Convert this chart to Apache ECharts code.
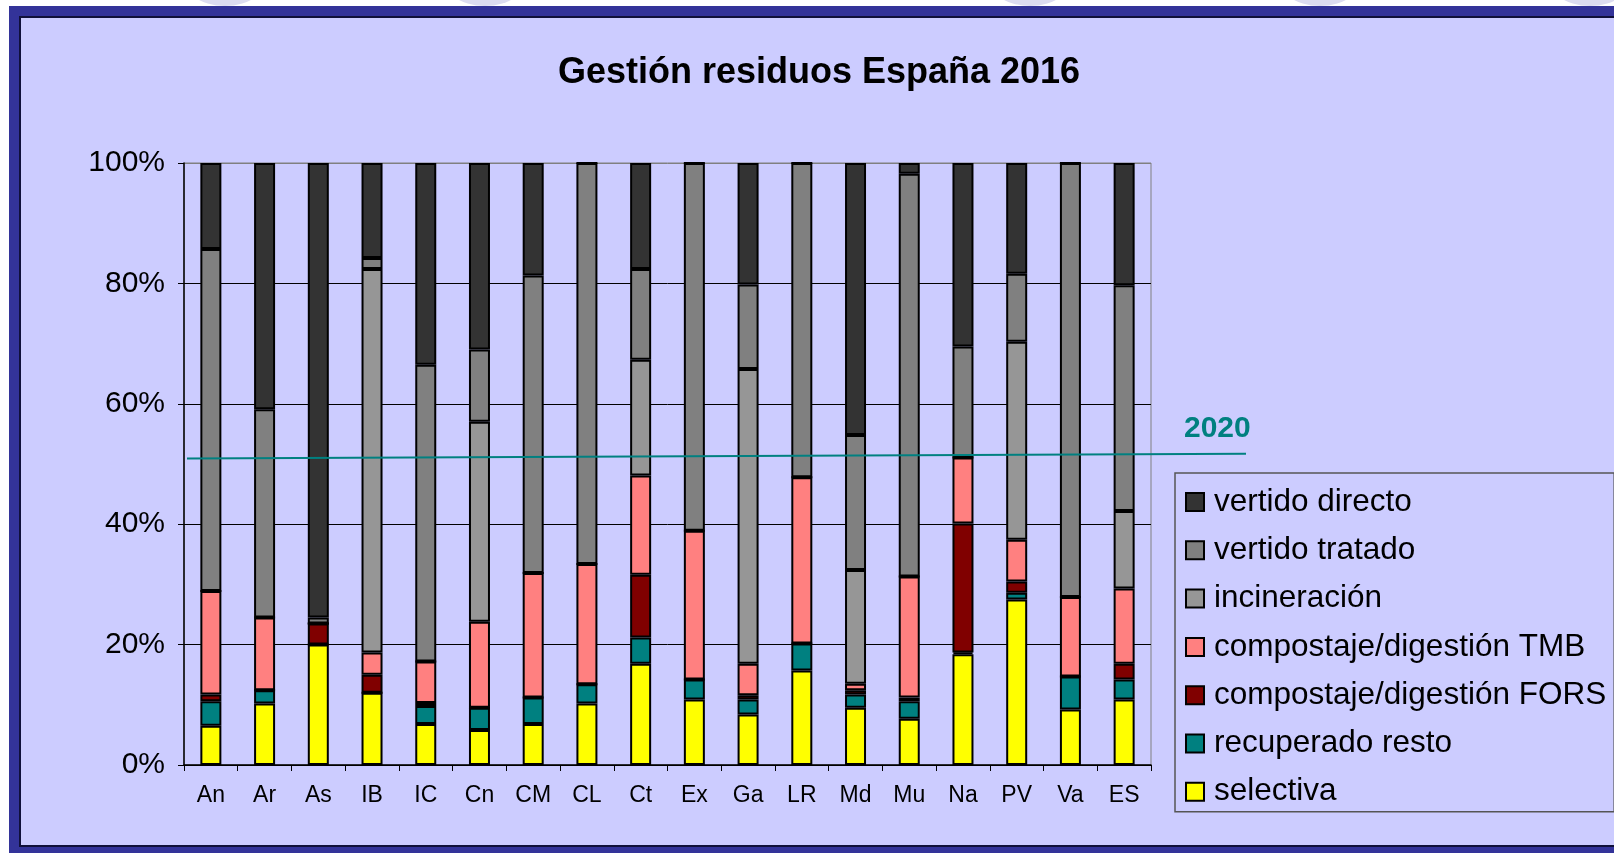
<!DOCTYPE html>
<html>
<head>
<meta charset="utf-8">
<script src="https://cdn.jsdelivr.net/npm/echarts@6/dist/echarts.min.js"></script>
<style>
  body { margin:0; background:#fff; width:1614px; height:853px; overflow:hidden; position:relative; }
  .blob { position:absolute; top:-60px; width:90px; height:66px; border-radius:50%; background:#dcdcf0; }
  #frame { position:absolute; left:9px; top:6px; width:1605px; height:847px; background:#333399; }
  #panel { position:absolute; left:19px; top:16px; width:1595px; height:831px; background:#CCCCFF;
           border-left:2px solid #10103a; border-top:2px solid #10103a; border-bottom:2px solid #10103a; box-sizing:border-box; }
  #chart { position:absolute; left:0; top:0; width:1614px; height:853px; }
</style>
</head>
<body>
<div class="blob" style="left:180px"></div>
<div class="blob" style="left:440px"></div>
<div class="blob" style="left:985px"></div>
<div class="blob" style="left:1275px"></div>
<div class="blob" style="left:1545px"></div>
<div id="frame"></div>
<div id="panel"></div>
<div id="chart"></div>
<script>
// datos (% sobre el total de cada comunidad)
var categorias = ['An','Ar','As','IB','IC','Cn','CM','CL','Ct','Ex','Ga','LR','Md','Mu','Na','PV','Va','ES'];
var selectiva      = [6.5,10.2,20.0,12.0,6.8,5.8,6.8,10.2,16.8,10.9,8.4,15.7,9.5,7.7,18.4,27.5,9.2,10.9];
var recuperado     = [4.1,2.2,0,0,3.0,3.7,4.4,3.2,4.4,3.3,2.5,4.5,2.2,2.9,0.3,1.1,5.5,3.3];
var compostFORS    = [1.1,0,3.5,3.0,0.5,0,0,0,10.4,0,0.7,0,0.7,0.6,21.4,1.9,0,2.6];
var compostTMB     = [17.2,12.1,0,3.7,6.9,14.3,20.7,20.0,16.5,24.7,5.2,27.6,1.1,20.1,11.0,6.9,13.2,12.5];
var incineracion   = [0,0,0,63.7,0,33.2,0,0,19.2,0,49.0,0,18.9,0,0,32.9,0,12.9];
var vertidoTratado = [56.8,34.6,1.0,1.8,49.3,12.0,49.4,66.6,15.1,61.1,14.0,52.2,22.4,66.9,18.4,11.3,72.1,37.5];
var vertidoDirecto = [14.3,40.9,75.5,15.8,33.5,31.0,18.7,0,17.6,0,20.2,0,45.2,1.8,30.5,18.4,0,20.3];
var yTicks = [0,20,40,60,80,100];
var objetivo2020 = [[0,50.9],[1,51.7]];

var myChart = echarts.init(document.getElementById('chart'));
var fuente = '"Liberation Sans", Arial, sans-serif';

function serie(nombre, datos, color){
  return {
    name: nombre, type: 'bar', stack: 'total', data: datos,
    barWidth: 21, xAxisIndex: 0, yAxisIndex: 0,
    itemStyle: { color: color, borderColor: '#000', borderWidth: 2 },
    emphasis: { disabled: true }
  };
}

var option = {
  backgroundColor: 'transparent',
  animation: false,
  title: {
    text: 'Gestión residuos España 2016',
    left: 814, top: 50, textAlign: 'center',
    textStyle: { fontFamily: fuente, fontWeight: 'bold', fontSize: 36, color: '#000' }
  },
  grid: [
    { left: 184, right: 463, top: 163, bottom: 88, show: true, borderColor: '#808080', borderWidth: 1, backgroundColor: 'transparent' },
    { left: 187, right: 368, top: 163, bottom: 88 }
  ],
  xAxis: [
    { type: 'category', data: categorias, gridIndex: 0,
      axisLine: { lineStyle: { color: '#000', width: 1.5 } },
      axisTick: { show: true, length: 6, lineStyle: { color: '#000' } },
      axisLabel: { fontFamily: fuente, fontSize: 23, color: '#000', margin: 19 } },
    { type: 'value', gridIndex: 1, min: 0, max: 1, show: false }
  ],
  yAxis: [
    { type: 'value', gridIndex: 0, min: 0, max: 100, interval: 20,
      axisLine: { show: true, lineStyle: { color: '#000', width: 1.5 } },
      axisTick: { show: true, length: 6, lineStyle: { color: '#000' } },
      splitLine: { show: true, lineStyle: { color: ['#000','#000','#000','#000','#000','#808080'], width: 1 } },
      axisLabel: { fontFamily: fuente, fontSize: 30, color: '#000', margin: 19,
        formatter: function(v){ return yTicks.indexOf(v) >= 0 ? v + '%' : ''; } } },
    { type: 'value', gridIndex: 1, min: 0, max: 100, show: false }
  ],
  legend: {
    orient: 'vertical', left: 1175, top: 473,
    padding: [13, 8, 4, 10],
    icon: 'rect',
    itemWidth: 18, itemHeight: 18, itemGap: 16.3,
    borderColor: '#555', borderWidth: 1.5, backgroundColor: 'transparent',
    itemStyle: { borderColor: '#000', borderWidth: 2 },
    textStyle: { fontFamily: fuente, fontSize: 31.5, color: '#000', lineHeight: 31, padding: [0,0,0,5] },
    data: ['vertido directo','vertido tratado','incineración','compostaje/digestión TMB','compostaje/digestión FORS','recuperado resto','selectiva']
  },
  graphic: [
    { type: 'text', left: 1184, top: 414,
      style: { text: '2020', fill: '#008080', font: 'bold 30px ' + fuente } }
  ],
  series: [
    serie('selectiva', selectiva, '#FFFF00'),
    serie('recuperado resto', recuperado, '#008080'),
    serie('compostaje/digestión FORS', compostFORS, '#800000'),
    serie('compostaje/digestión TMB', compostTMB, '#FF8080'),
    serie('incineración', incineracion, '#969696'),
    serie('vertido tratado', vertidoTratado, '#808080'),
    serie('vertido directo', vertidoDirecto, '#333333'),
    { name: '2020', type: 'line', xAxisIndex: 1, yAxisIndex: 1, data: objetivo2020,
      symbol: 'none', lineStyle: { color: '#008080', width: 2 }, z: 5, silent: true }
  ]
};
myChart.setOption(option);
</script>
</body>
</html>
